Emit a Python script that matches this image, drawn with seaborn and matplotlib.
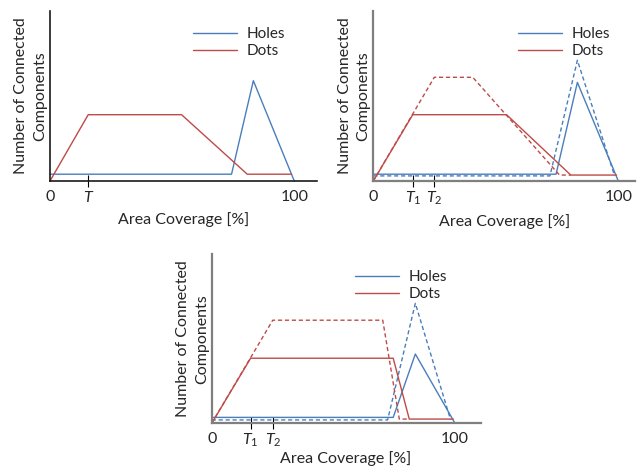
import matplotlib
matplotlib.use("Agg")
import matplotlib.pyplot as plt
import seaborn as sns

sns.set_style("white")
plt.rcParams['font.family'] = ['Lato', 'DejaVu Sans']
plt.rcParams['mathtext.fontset'] = 'custom'
plt.rcParams['mathtext.rm'] = 'Lato'
plt.rcParams['mathtext.it'] = 'Lato:italic'

BLUE = '#4a7ebb'
RED = '#be4b48'

# panel 1: single threshold T
p1_dots_x = [0, 15.6, 53.7, 80.5, 98.6]
p1_dots_y = [0, 3.9, 3.9, 0.4, 0.4]
p1_holes_x = [0, 74.1, 83.0, 99.7]
p1_holes_y = [0.4, 0.4, 5.9, 0]
p1_ticks = [0, 15.6, 100]
p1_labels = ['0', '$T$', '100']

# panel 2: thresholds T1, T2
p2_dots_x = [0, 16.1, 54.4, 80.6, 99.3]
p2_dots_y = [0, 3.9, 3.9, 0.35, 0.35]
p2_dots2_x = [0, 24.9, 40.6, 76.0, 80.6]
p2_dots2_y = [0, 6.1, 6.1, 0.35, 0.35]
p2_holes_x = [0, 74.6, 83.3, 100]
p2_holes_y = [0.4, 0.4, 5.8, 0]
p2_holes2_x = [0, 72.1, 83.3, 98.5]
p2_holes2_y = [0.3, 0.3, 7.1, 0.3]
p2_ticks = [0, 16.1, 24.9, 100]
p2_labels = ['0', '$T_1$', '$T_2$', '100']

# panel 3
p3_dots_x = [0, 16.0, 74.6, 81.2, 99.3]
p3_dots_y = [0, 3.85, 3.85, 0.25, 0.25]
p3_dots2_x = [0, 25.1, 70.3, 77.1, 81.2]
p3_dots2_y = [0, 6.1, 6.1, 0.25, 0.25]
p3_holes_x = [0, 74.6, 83.7, 100]
p3_holes_y = [0.35, 0.35, 4.1, 0]
p3_holes2_x = [0, 72.3, 83.7, 98.2]
p3_holes2_y = [0.2, 0.2, 7.1, 0.2]
p3_ticks = [0, 16.0, 25.1, 100]
p3_labels = ['0', '$T_1$', '$T_2$', '100']

W, H = 640, 467
fig = plt.figure(figsize=(6.4, 4.67), dpi=100)


def px_axes(x0, ybase, wpx, hpx):
    return fig.add_axes([x0 / W, (H - ybase) / H, wpx / W, hpx / H])


def line(ax, x, y, color, label=None, dashed=False):
    sns.lineplot(x=x, y=y, ax=ax, color=color, sort=False, estimator=None,
                 lw=1.0, label=label, clip_on=False,
                 linestyle=(0, (3, 2)) if dashed else '-')


def style(ax, xmax, ticks, labels, spine_color, spine_w, legend_xy, xpad=5):
    ax.set_xlim(0, xmax)
    ax.set_ylim(0, 10)
    for s in ['top', 'right']:
        ax.spines[s].set_visible(False)
    for s in ['left', 'bottom']:
        ax.spines[s].set_color(spine_color)
        ax.spines[s].set_linewidth(spine_w)
    ax.set_yticks([])
    ax.set_xticks(ticks)
    ax.set_xticklabels(labels, fontsize=11.5)
    ax.tick_params(axis='x', direction='inout', length=8.5, width=0.8,
                   color='black', pad=2, bottom=True)
    ticks_obj = ax.xaxis.get_major_ticks()
    ticks_obj[0].tick1line.set_visible(False)
    ticks_obj[-1].tick1line.set_visible(False)
    ax.set_xlabel('Area Coverage [%]', fontsize=11.5, labelpad=xpad)
    ax.set_ylabel('Number of Connected\nComponents', fontsize=11.5,
                  labelpad=2, linespacing=1.45)
    lx, ly = legend_xy
    ax.legend(loc='upper left', bbox_to_anchor=(lx / W, 1 - (ly - 5) / H),
              bbox_transform=fig.transFigure, frameon=False, fontsize=11,
              borderpad=0, borderaxespad=0, handlelength=2.9,
              handletextpad=0.6, labelspacing=0.2)


ax1 = px_axes(50, 181, 2.45 * 109, 170)
line(ax1, p1_holes_x, p1_holes_y, BLUE, 'Holes')
line(ax1, p1_dots_x, p1_dots_y, RED, 'Dots')
style(ax1, 109, p1_ticks, p1_labels, '#1a1a1a', 1.2, (193, 32))

ax2 = px_axes(373.3, 181, 2.45 * 107, 170)
line(ax2, p2_holes_x, p2_holes_y, BLUE, 'Holes')
line(ax2, p2_holes2_x, p2_holes2_y, BLUE, dashed=True)
line(ax2, p2_dots_x, p2_dots_y, RED, 'Dots')
line(ax2, p2_dots2_x, p2_dots2_y, RED, dashed=True)
style(ax2, 107, p2_ticks, p2_labels, '#7f7f7f', 1.6, (517.7, 32))

ax3 = px_axes(211.7, 423.3, 2.433 * 110.5, 169)
line(ax3, p3_holes_x, p3_holes_y, BLUE, 'Holes')
line(ax3, p3_holes2_x, p3_holes2_y, BLUE, dashed=True)
line(ax3, p3_dots_x, p3_dots_y, RED, 'Dots')
line(ax3, p3_dots2_x, p3_dots2_y, RED, dashed=True)
style(ax3, 110.5, p3_ticks, p3_labels, '#7f7f7f', 1.6, (355, 275), xpad=1)

fig.savefig('out.png', dpi=100)
